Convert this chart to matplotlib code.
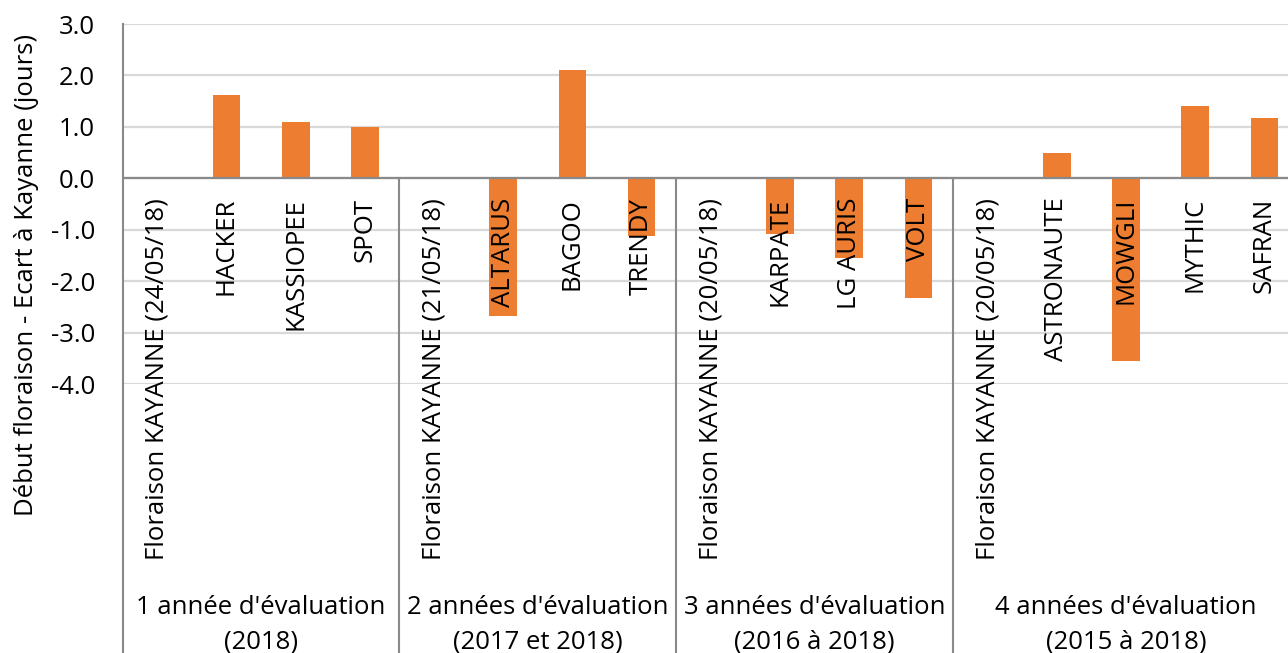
import matplotlib
matplotlib.use("Agg")
import matplotlib.pyplot as plt
from matplotlib.ticker import FormatStrFormatter

plt.rcParams['font.family'] = ['Open Sans', 'DejaVu Sans']
plt.rcParams['axes.unicode_minus'] = False

# Data
categories = ["Floraison KAYANNE (24/05/18)", "HACKER", "KASSIOPEE", "SPOT",
              "Floraison KAYANNE (21/05/18)", "ALTARUS", "BAGOO", "TRENDY",
              "Floraison KAYANNE (20/05/18)", "KARPATE", "LG AURIS", "VOLT",
              "Floraison KAYANNE (20/05/18)", "ASTRONAUTE", "MOWGLI", "MYTHIC", "SAFRAN"]
values = [0, 1.62, 1.10, 0.99,
          0, -2.67, 2.11, -1.13,
          0, -1.09, -1.55, -2.32,
          0, 0.50, -3.55, 1.40, 1.17]
groups = ["1 année d'évaluation\n(2018)",
          "2 années d'évaluation\n(2017 et 2018)",
          "3 années d'évaluation\n(2016 à 2018)",
          "4 années d'évaluation\n(2015 à 2018)"]
group_sizes = [4, 4, 4, 5]

W, H = 1288, 653
fig = plt.figure(figsize=(W / 100, H / 100), dpi=100)
left, right, top, bottom = 122.7, 1299, 24, 384
ax = fig.add_axes([left / W, 1 - bottom / H, (right - left) / W, (bottom - top) / H])

fs = 18.5
axis_col = '#898989'
x = list(range(len(categories)))
ax.bar(x, values, width=0.4, color='#ed7d31', zorder=2)

ax.set_xlim(-0.5, len(categories) - 0.5)
ax.set_ylim(-4, 3)
ax.set_yticks(range(-4, 4))
ax.yaxis.set_major_formatter(FormatStrFormatter('%.1f'))
ax.tick_params(axis='y', length=0, pad=20, labelsize=fs)
ax.set_xticks([])
ax.yaxis.grid(True, color='#d9d9d9', linewidth=1.6, zorder=0)
ax.set_axisbelow(True)
for s in ['top', 'right', 'bottom']:
    ax.spines[s].set_visible(False)
ax.spines['left'].set_color(axis_col)
ax.spines['left'].set_linewidth(1.5)
ax.axhline(0, color=axis_col, linewidth=1.6, zorder=3)

# data value at the bottom edge of the figure
y_fig_bottom = -4 - (1 - bottom / H) * 7 / ((bottom - top) / H)

# left axis line continues down through the label area
ax.plot([-0.5, -0.5], [-4, y_fig_bottom], color=axis_col, lw=1.5, clip_on=False)

# group labels and separators
pos = 0
for g, n in zip(groups, group_sizes):
    center = pos + (n - 1) / 2
    ax.annotate(g, xy=(center, 0), xytext=(0, -(623.5 - 177.5) * 0.72),
                textcoords='offset points', ha='center', va='center',
                fontsize=fs, linespacing=1.5, annotation_clip=False)
    pos += n
    if pos < len(categories):
        ax.plot([pos - 0.5, pos - 0.5], [0, y_fig_bottom], color=axis_col,
                lw=1.5, clip_on=False)

# category labels, rotated, hanging below the zero line
for i, lab in enumerate(categories):
    ax.annotate(lab, xy=(i, 0), xytext=(0, -14), textcoords='offset points',
                rotation=90, ha='center', va='top', fontsize=fs, zorder=4,
                annotation_clip=False)

fig.text(27 / W, 1 - 275 / H, "Début floraison - Ecart à Kayanne (jours)",
         rotation=90, ha='center', va='center', fontsize=fs)

fig.savefig('out.png', dpi=100)
